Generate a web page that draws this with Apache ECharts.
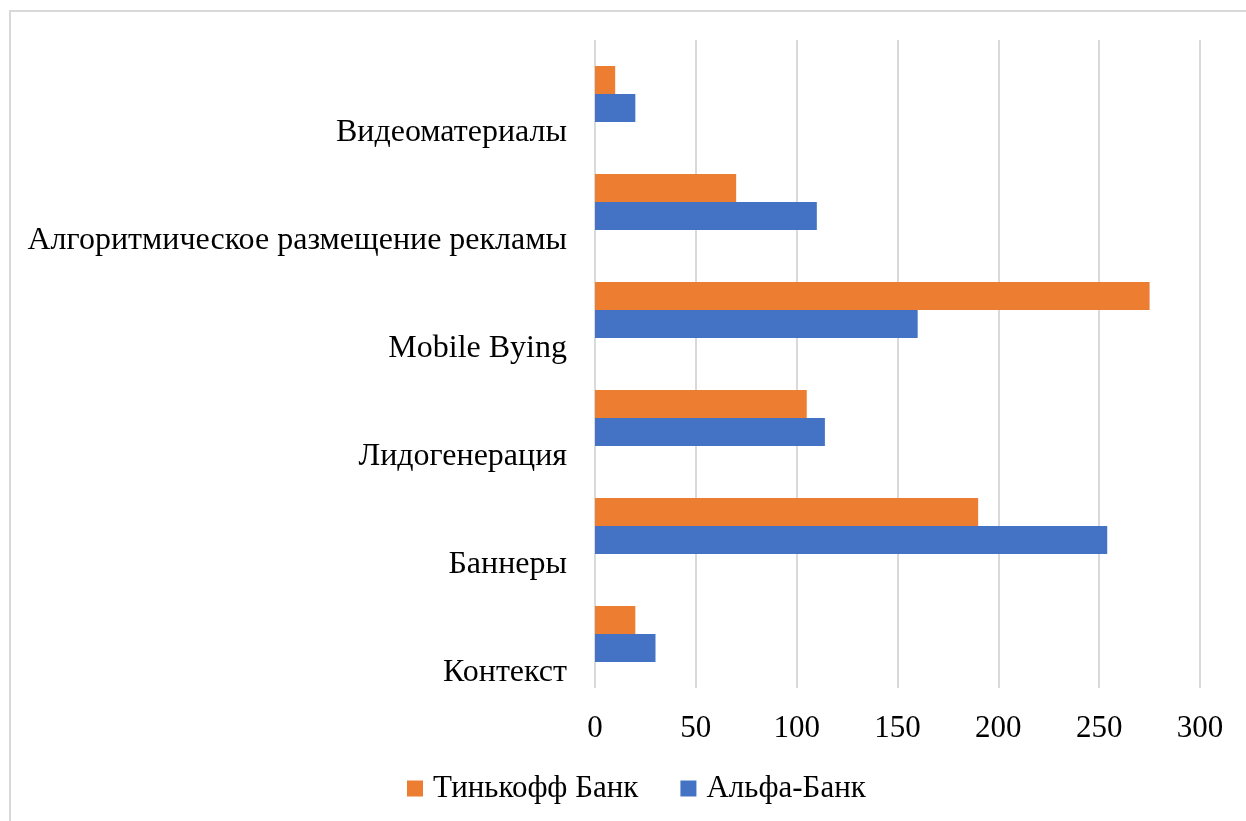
<!DOCTYPE html>
<html>
<head>
<meta charset="utf-8">
<script src="https://cdn.jsdelivr.net/npm/echarts@6/dist/echarts.min.js"></script>
<style>
  html, body { margin: 0; padding: 0; background: #fff; }
  #main { width: 1246px; height: 821px; }
</style>
</head>
<body>
<div id="main"></div>
<script>
const categories = ['Контекст', 'Баннеры', 'Лидогенерация', 'Mobile Bying', 'Алгоритмическое размещение рекламы', 'Видеоматериалы'];
const alfaBank = [30, 254, 114, 160, 110, 20];
const tinkoff = [20, 190, 105, 275, 70, 10];
const xTicks = [0, 50, 100, 150, 200, 250, 300];

const font = '"Liberation Serif", "Times New Roman", serif';
let myChart = echarts.init(document.getElementById('main'));

let option = {
  backgroundColor: '#fff',
  animation: false,
  textStyle: { fontFamily: font },
  graphic: [{
    type: 'rect',
    shape: { x: 10, y: 11, width: 1300, height: 900 },
    style: { fill: 'none', stroke: '#d9d9d9', lineWidth: 2 },
    silent: true
  }],
  legend: {
    bottom: 12,
    left: 402,
    itemWidth: 16,
    itemHeight: 16,
    itemGap: 42,
    icon: 'rect',
    data: ['Тинькофф Банк', 'Альфа-Банк'],
    textStyle: { fontFamily: font, fontSize: 31, color: '#000', padding: [0, 0, 0, 5] }
  },
  grid: { left: 595, right: 46, top: 40, bottom: 133 },
  xAxis: {
    type: 'value',
    min: xTicks[0],
    max: xTicks[xTicks.length - 1],
    interval: 50,
    axisLine: { show: false },
    axisTick: { show: false },
    splitLine: { lineStyle: { color: '#d9d9d9', width: 2 } },
    axisLabel: { fontFamily: font, fontSize: 31, color: '#000', margin: 25 }
  },
  yAxis: {
    type: 'category',
    data: categories,
    axisLine: { show: false },
    axisTick: { show: false },
    axisLabel: {
      fontFamily: font, fontSize: 32, color: '#000', margin: 28,
      verticalAlign: 'top',
      lineHeight: 32,
      padding: [23, 0, 0, 0]
    }
  },
  series: [
    {
      name: 'Тинькофф Банк',
      type: 'bar',
      data: tinkoff,
      barWidth: 28,
      barGap: '0%',
      itemStyle: { color: '#ED7D31' }
    },
    {
      name: 'Альфа-Банк',
      type: 'bar',
      data: alfaBank,
      barWidth: 28,
      barGap: '0%',
      itemStyle: { color: '#4472C4' }
    }
  ]
};

myChart.setOption(option);
</script>
</body>
</html>
